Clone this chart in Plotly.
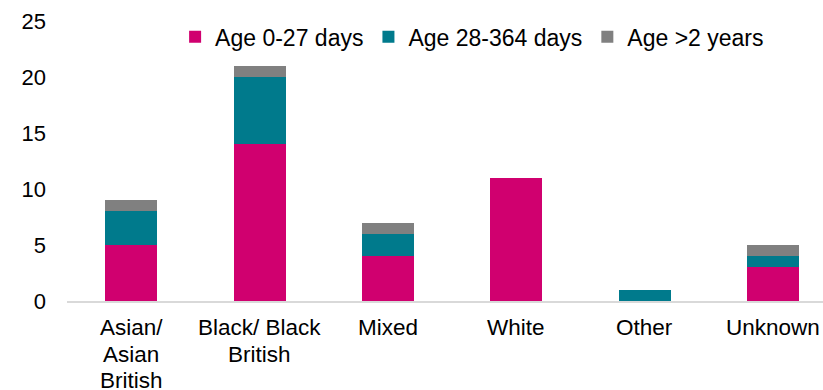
import plotly.graph_objects as go

categories = ["Asian/<br>Asian<br>British", "Black/ Black<br>British", "Mixed", "White", "Other", "Unknown"]
age_0_27_days = [5, 14, 4, 11, 0, 3]
age_28_364_days = [3, 6, 2, 0, 1, 1]
age_over_2_years = [1, 1, 1, 0, 0, 1]

series = [
    ("Age 0-27 days", age_0_27_days, "#D0006F"),
    ("Age 28-364 days", age_28_364_days, "#007A8C"),
    ("Age >2 years", age_over_2_years, "#808080"),
]

font = "Liberation Sans, Arial, sans-serif"
x_pos = list(range(len(categories)))

fig = go.Figure()
for name, vals, color in series:
    fig.add_trace(go.Bar(
        x=x_pos, y=vals, name=name,
        marker=dict(color=color, line=dict(width=0)),
        width=0.405,
    ))

# Category labels: one annotation per line for tighter line spacing
line_step = 26.5
for xi, label in zip(x_pos, categories):
    for li, part in enumerate(label.split("<br>")):
        fig.add_annotation(
            x=xi, xref="x", y=0, yref="paper", yanchor="top",
            yshift=-12 - li * line_step, text=part, showarrow=False,
            font=dict(family=font, size=22.5, color="#000000"),
        )

fig.update_layout(
    barmode="stack",
    width=823, height=390,
    margin=dict(l=67, r=0, t=21, b=89),
    paper_bgcolor="white", plot_bgcolor="white",
    font=dict(family=font, size=22, color="#000000"),
    showlegend=True,
    legend=dict(orientation="h", x=0.143, y=1.02, xanchor="left", yanchor="top",
                font=dict(size=23), bgcolor="rgba(0,0,0,0)", itemwidth=30,
                traceorder="normal"),
    xaxis=dict(range=[-0.5, 5.39], tickmode="array", tickvals=x_pos,
               showticklabels=False,
               showgrid=False, showline=True, linecolor="#D9D9D9", linewidth=1.5,
               ticks="", zeroline=False),
    yaxis=dict(range=[0, 25], dtick=5, showgrid=False, zeroline=False,
               showline=False, ticks="", ticklabelstandoff=20),
    bargap=0,
)

fig.write_html("out.html")
